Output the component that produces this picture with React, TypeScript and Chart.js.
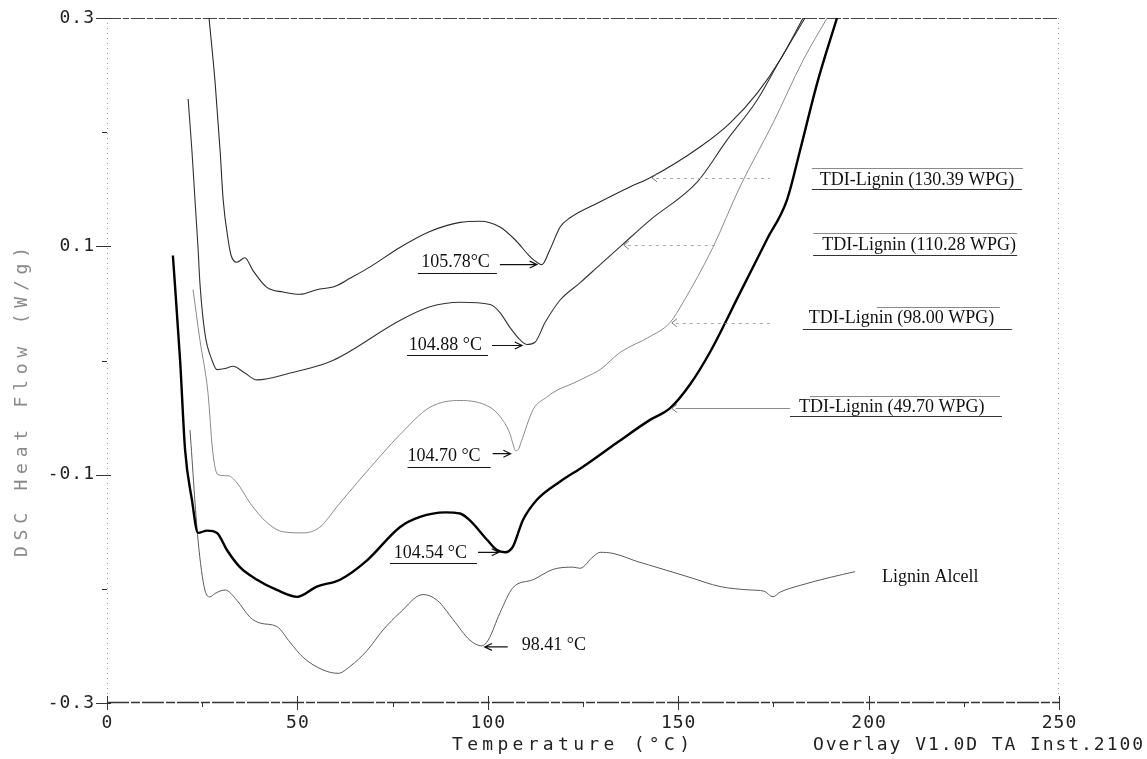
import React, { useEffect, useRef } from "react";
import { Chart, registerables } from "chart.js";

Chart.register(...registerables);

// Axis ticks
const xTicks = [0, 50, 100, 150, 200, 250];
const xMinorTicks = [25, 75, 125, 175, 225];
const yTicks = [0.3, 0.1, -0.1, -0.3];
const yMinorTicks = [0.2, 0.0, -0.2];

// TDI-Lignin (130.39 WPG)
const temp130 = [26.8, 28.4, 29.7, 30.5, 31.8, 32.6, 34.1, 36.2, 38.3, 42.0, 46.2, 50.7, 55.1, 59.9, 63.8, 69.1, 76.9, 84.8, 92.7, 98.0, 103.2, 107.1, 111.1, 112.9, 114.2, 116.3, 119.0, 121.6, 129.5, 137.3, 142.6, 155.7, 163.6, 170.7, 176.7, 182.8];
const flow130 = [0.300, 0.243, 0.184, 0.141, 0.106, 0.092, 0.086, 0.090, 0.079, 0.064, 0.060, 0.058, 0.062, 0.065, 0.072, 0.082, 0.099, 0.113, 0.121, 0.122, 0.117, 0.106, 0.091, 0.086, 0.084, 0.097, 0.117, 0.125, 0.139, 0.152, 0.160, 0.187, 0.208, 0.234, 0.263, 0.300];

// TDI-Lignin (110.28 WPG)
const temp110 = [21.3, 22.3, 23.1, 23.9, 24.4, 25.7, 27.6, 28.9, 31.0, 33.1, 36.2, 39.4, 48.1, 59.3, 76.9, 84.8, 92.7, 100.6, 103.2, 105.8, 108.5, 110.3, 112.4, 115.0, 119.0, 124.2, 129.5, 135.2, 142.6, 154.9, 162.8, 170.7, 176.7, 183.3];
const flow110 = [0.229, 0.184, 0.141, 0.099, 0.068, 0.024, 0.000, -0.008, -0.007, -0.005, -0.011, -0.017, -0.011, 0.000, 0.035, 0.047, 0.051, 0.049, 0.042, 0.029, 0.018, 0.014, 0.016, 0.033, 0.053, 0.068, 0.084, 0.101, 0.123, 0.156, 0.193, 0.228, 0.263, 0.300];

// TDI-Lignin (98.00 WPG)
const temp98 = [22.6, 24.4, 26.5, 27.8, 29.1, 31.8, 34.1, 37.6, 42.0, 46.2, 51.5, 55.9, 60.4, 65.7, 72.5, 76.9, 84.8, 92.7, 100.6, 103.2, 105.8, 106.6, 107.3, 108.0, 108.8, 111.9, 115.5, 118.2, 122.4, 126.1, 129.5, 134.7, 142.6, 147.8, 151.3, 159.1, 166.2, 174.9, 182.8, 189.1];
const flow98 = [0.062, 0.018, -0.028, -0.081, -0.100, -0.101, -0.107, -0.125, -0.142, -0.150, -0.151, -0.146, -0.128, -0.107, -0.081, -0.065, -0.041, -0.035, -0.041, -0.049, -0.064, -0.073, -0.079, -0.078, -0.071, -0.043, -0.032, -0.026, -0.020, -0.014, -0.008, 0.007, 0.021, 0.033, 0.051, 0.099, 0.152, 0.208, 0.263, 0.300];

// TDI-Lignin (49.70 WPG)
const temp49 = [17.3, 19.2, 20.5, 22.3, 23.9, 26.3, 28.9, 31.5, 34.9, 39.4, 44.6, 49.9, 55.1, 61.2, 68.3, 76.9, 82.2, 88.8, 92.7, 95.3, 99.8, 102.4, 104.5, 106.6, 109.2, 112.9, 119.0, 125.0, 133.9, 142.6, 147.8, 153.1, 158.3, 166.2, 173.3, 178.6, 182.0, 186.5, 191.7];
const flow49 = [0.092, 0.000, -0.078, -0.122, -0.151, -0.149, -0.151, -0.166, -0.181, -0.192, -0.201, -0.207, -0.198, -0.192, -0.175, -0.146, -0.137, -0.133, -0.134, -0.140, -0.157, -0.166, -0.168, -0.163, -0.140, -0.122, -0.106, -0.093, -0.072, -0.052, -0.042, -0.021, 0.007, 0.059, 0.106, 0.141, 0.184, 0.243, 0.300];

// Lignin Alcell
const tempAlcell = [21.8, 23.9, 25.7, 27.0, 28.4, 31.0, 34.1, 37.6, 40.2, 44.6, 48.1, 51.5, 56.7, 60.7, 63.8, 68.3, 72.5, 76.9, 83.0, 86.7, 90.9, 95.3, 98.4, 100.1, 103.2, 106.6, 111.9, 117.1, 122.4, 124.2, 127.6, 129.5, 132.9, 139.2, 145.2, 153.1, 161.0, 168.9, 172.5, 174.9, 176.7, 182.0, 189.9, 196.4];
const flowAlcell = [-0.061, -0.157, -0.201, -0.207, -0.204, -0.201, -0.210, -0.225, -0.230, -0.233, -0.247, -0.260, -0.271, -0.274, -0.268, -0.254, -0.236, -0.221, -0.205, -0.210, -0.227, -0.245, -0.250, -0.245, -0.221, -0.199, -0.192, -0.183, -0.181, -0.182, -0.172, -0.168, -0.169, -0.176, -0.182, -0.190, -0.198, -0.201, -0.202, -0.207, -0.203, -0.197, -0.190, -0.185];

type Series = { label: string; temps: number[]; flows: number[]; color: string; width: number };

const SERIES: Series[] = [
  { label: "TDI-Lignin (130.39 WPG)", temps: temp130, flows: flow130, color: "#2b2b2b", width: 1.1 },
  { label: "TDI-Lignin (110.28 WPG)", temps: temp110, flows: flow110, color: "#333333", width: 1.1 },
  { label: "TDI-Lignin (98.00 WPG)", temps: temp98, flows: flow98, color: "#8a8a8a", width: 1 },
  { label: "TDI-Lignin (49.70 WPG)", temps: temp49, flows: flow49, color: "#000000", width: 2.4 },
  { label: "Lignin Alcell", temps: tempAlcell, flows: flowAlcell, color: "#5a5a5a", width: 1 },
];

const MONO = "'DejaVu Sans Mono', 'Liberation Mono', monospace";
const SERIF = "'Liberation Serif', 'Times New Roman', serif";

// Transition call-outs: the arrow points at the dip found inside [lo, hi]
const DIP_NOTES = [
  { series: 0, text: "105.78°C", lo: 105, hi: 120, side: "left", textEdge: -52, textDy: -2, arrowFrom: -42, arrowTo: -5, arrowDy: 0, rule: [-124, -45], ruleDy: 8 },
  { series: 1, text: "104.88 °C", lo: 100, hi: 120, side: "left", textEdge: -45, textDy: 1, arrowFrom: -35, arrowTo: -5, arrowDy: 1, rule: [-120, -39], ruleDy: 10 },
  { series: 2, text: "104.70 °C", lo: 100, hi: 120, side: "left", textEdge: -35, textDy: 6, arrowFrom: -23, arrowTo: -5, arrowDy: 3, rule: [-108, -25], ruleDy: 16 },
  { series: 3, text: "104.54 °C", lo: 95, hi: 115, side: "left", textEdge: -38, textDy: 1, arrowFrom: -27, arrowTo: -6, arrowDy: 0, rule: [-115, -28], ruleDy: 11 },
  { series: 4, text: "98.41 °C", lo: 90, hi: 110, side: "right", textEdge: 40, textDy: -1, arrowFrom: 26, arrowTo: 3, arrowDy: 1, rule: null as number[] | null, ruleDy: 0 },
];

// Sample labels with leader lines back to their curves
const SERIES_NOTES = [
  { series: 0, at: [187.2, 0.158], leader: [142.6, 174.1], over: [-8, 203, -12], under: [-8, 202, 9] },
  { series: 1, at: [187.8, 0.101], leader: [135.2, 159.7], over: [-9, 195, -12], under: [-9, 195, 10] },
  { series: 2, at: [184.3, 0.037], leader: [147.8, 174.6], over: [68, 191, -11], under: [-6, 203, 11] },
  { series: 3, at: [181.7, -0.041], leader: [147.8, 179.4], over: [11, 201, -11], under: [-9, 203, 9] },
  { series: 4, at: [203.5, -0.19], leader: null as number[] | null, over: null as number[] | null, under: null as number[] | null },
];

function flowAt(temps: number[], flows: number[], t: number): number {
  for (let i = 1; i < temps.length; i++) {
    if (t <= temps[i]) {
      const f = (t - temps[i - 1]) / (temps[i] - temps[i - 1]);
      return flows[i - 1] + f * (flows[i] - flows[i - 1]);
    }
  }
  return flows[flows.length - 1];
}

function dipOf(s: Series, lo: number, hi: number) {
  let best = { t: 0, v: Infinity };
  s.temps.forEach((t, i) => {
    if (t >= lo && t <= hi && s.flows[i] < best.v) best = { t, v: s.flows[i] };
  });
  return best;
}

// Draws text glyph by glyph so that it spans the given width
function spacedText(ctx: CanvasRenderingContext2D, text: string, x: number, y: number, width: number) {
  const natural = ctx.measureText(text).width;
  const gap = text.length > 1 ? (width - natural) / (text.length - 1) : 0;
  let cx = x;
  for (const ch of text) {
    ctx.fillText(ch, cx, y);
    cx += ctx.measureText(ch).width + gap;
  }
}

function tickText(ctx: CanvasRenderingContext2D, text: string, x: number, y: number, align: "center" | "right") {
  const gap = 1;
  const w = ctx.measureText(text).width + gap * (text.length - 1);
  const left = align === "center" ? x - w / 2 : x - w;
  spacedText(ctx, text, left, y, w);
}

function arrow(ctx: CanvasRenderingContext2D, x1: number, y1: number, x2: number, y2: number, head = 8) {
  const ang = Math.atan2(y2 - y1, x2 - x1);
  ctx.beginPath();
  ctx.moveTo(x1, y1);
  ctx.lineTo(x2, y2);
  ctx.moveTo(x2 - head * Math.cos(ang - 0.45), y2 - head * Math.sin(ang - 0.45));
  ctx.lineTo(x2, y2);
  ctx.lineTo(x2 - head * Math.cos(ang + 0.45), y2 - head * Math.sin(ang + 0.45));
  ctx.stroke();
}

const dscFrame = {
  id: "dscFrame",
  beforeDatasetsDraw(chart: any) {
    const ctx: CanvasRenderingContext2D = chart.ctx;
    const xs = chart.scales.x;
    const ys = chart.scales.y;
    const { left, right, top, bottom } = chart.chartArea;
    ctx.save();
    ctx.lineCap = "butt";

    // plot frame
    ctx.strokeStyle = "#9a9a9a";
    ctx.lineWidth = 1;
    ctx.setLineDash([1, 4]);
    ctx.beginPath();
    ctx.moveTo(left + 0.5, top);
    ctx.lineTo(left + 0.5, bottom);
    ctx.moveTo(right - 0.5, top);
    ctx.lineTo(right - 0.5, bottom);
    ctx.stroke();
    ctx.setLineDash([14, 2, 6, 2]);
    ctx.strokeStyle = "#444";
    ctx.beginPath();
    ctx.moveTo(left, top + 0.5);
    ctx.lineTo(right, top + 0.5);
    ctx.stroke();
    ctx.setLineDash([22, 2, 9, 2]);
    ctx.strokeStyle = "#333";
    ctx.lineWidth = 1.4;
    ctx.beginPath();
    ctx.moveTo(left, bottom - 0.5);
    ctx.lineTo(right, bottom - 0.5);
    ctx.stroke();
    ctx.setLineDash([]);

    // tick marks
    ctx.strokeStyle = "#333";
    ctx.lineWidth = 1;
    ctx.beginPath();
    xTicks.forEach((t) => {
      const x = Math.round(xs.getPixelForValue(t)) + 0.5;
      ctx.moveTo(x, bottom - 7);
      ctx.lineTo(x, bottom + 7);
    });
    xMinorTicks.forEach((t) => {
      const x = Math.round(xs.getPixelForValue(t)) + 0.5;
      ctx.moveTo(x, bottom);
      ctx.lineTo(x, bottom + 4);
    });
    yTicks.forEach((v) => {
      const y = Math.round(ys.getPixelForValue(v)) + 0.5;
      ctx.moveTo(left - 11, y);
      ctx.lineTo(left + 4, y);
    });
    yMinorTicks.forEach((v) => {
      const y = Math.round(ys.getPixelForValue(v)) + 0.5;
      ctx.moveTo(left - 5, y);
      ctx.lineTo(left, y);
    });
    ctx.stroke();

    // tick labels
    ctx.font = `18px ${MONO}`;
    ctx.fillStyle = "#222";
    ctx.textBaseline = "middle";
    ctx.textAlign = "left";
    xTicks.forEach((t) => tickText(ctx, String(t), xs.getPixelForValue(t), bottom + 20, "center"));
    yTicks.forEach((v) => tickText(ctx, v.toFixed(1), left - 13, ys.getPixelForValue(v), "right"));

    // axis titles and instrument footer
    ctx.fillStyle = "#222";
    spacedText(ctx, "Temperature (°C)", 452, bottom + 42, 238);
    spacedText(ctx, "Overlay V1.0D TA Inst.2100", 813, bottom + 42, 330);

    ctx.save();
    ctx.fillStyle = "#8a8a8a";
    ctx.translate(22, 402);
    ctx.rotate(-Math.PI / 2);
    spacedText(ctx, "DSC Heat Flow (W/g)", -155, 0, 310);
    ctx.restore();

    ctx.restore();
  },
  afterDatasetsDraw(chart: any) {
    const ctx: CanvasRenderingContext2D = chart.ctx;
    const xs = chart.scales.x;
    const ys = chart.scales.y;
    ctx.save();
    ctx.textBaseline = "middle";

    // transition call-outs
    DIP_NOTES.forEach((n) => {
      const s = SERIES[n.series];
      const d = dipOf(s, n.lo, n.hi);
      const tx = xs.getPixelForValue(d.t);
      const ty = ys.getPixelForValue(d.v);
      ctx.font = `18px ${SERIF}`;
      ctx.fillStyle = "#111";
      ctx.textAlign = n.side === "left" ? "right" : "left";
      ctx.fillText(n.text, tx + n.textEdge, ty + n.textDy);
      ctx.strokeStyle = "#111";
      ctx.lineWidth = 1.2;
      arrow(ctx, tx + n.arrowFrom, ty + n.arrowDy, tx + n.arrowTo, ty + n.arrowDy, 8);
      if (n.rule) {
        ctx.lineWidth = 1.1;
        ctx.beginPath();
        ctx.moveTo(tx + n.rule[0], Math.round(ty + n.ruleDy) + 0.5);
        ctx.lineTo(tx + n.rule[1], Math.round(ty + n.ruleDy) + 0.5);
        ctx.stroke();
      }
    });

    // sample labels
    SERIES_NOTES.forEach((n) => {
      const s = SERIES[n.series];
      const lx = xs.getPixelForValue(n.at[0]);
      const ly = ys.getPixelForValue(n.at[1]);
      if (n.leader) {
        const y0 = ys.getPixelForValue(flowAt(s.temps, s.flows, n.leader[0]));
        const x0 = xs.getPixelForValue(n.leader[0]);
        const x1 = xs.getPixelForValue(n.leader[1]);
        ctx.strokeStyle = n.series === 3 ? "#8c8c8c" : "#a8a8a8";
        ctx.lineWidth = 1;
        ctx.setLineDash(n.series === 3 ? [] : [3, 4]);
        ctx.beginPath();
        ctx.moveTo(x0 + 6, Math.round(y0) + 0.5);
        ctx.lineTo(x1, Math.round(y0) + 0.5);
        ctx.stroke();
        ctx.setLineDash([]);
        ctx.strokeStyle = "#777";
        ctx.beginPath();
        ctx.moveTo(x0 + 7, y0 - 4);
        ctx.lineTo(x0 + 2, y0);
        ctx.lineTo(x0 + 7, y0 + 4);
        ctx.stroke();
      }
      ctx.font = `18px ${SERIF}`;
      ctx.fillStyle = "#111";
      ctx.textAlign = "left";
      ctx.fillText(s.label, lx, ly);
      if (n.over) {
        ctx.strokeStyle = "#8a8a8a";
        ctx.lineWidth = 1;
        ctx.beginPath();
        ctx.moveTo(lx + n.over[0], Math.round(ly + n.over[2]) + 0.5);
        ctx.lineTo(lx + n.over[1], Math.round(ly + n.over[2]) + 0.5);
        ctx.stroke();
      }
      if (n.under) {
        ctx.strokeStyle = "#333";
        ctx.lineWidth = 1.1;
        ctx.beginPath();
        ctx.moveTo(lx + n.under[0], Math.round(ly + n.under[2]) + 0.5);
        ctx.lineTo(lx + n.under[1], Math.round(ly + n.under[2]) + 0.5);
        ctx.stroke();
      }
    });
    ctx.restore();
  },
};

export default function App() {
  const ref = useRef<HTMLCanvasElement>(null);

  useEffect(() => {
    const canvas = ref.current;
    if (!canvas) return;
    const chart = new Chart(canvas, {
      type: "scatter",
      data: {
        datasets: SERIES.map((s) => ({
          label: s.label,
          data: s.temps.map((t, i) => ({ x: t, y: s.flows[i] })),
          showLine: true,
          borderColor: s.color,
          backgroundColor: s.color,
          borderWidth: s.width,
          pointRadius: 0,
          pointHoverRadius: 0,
          cubicInterpolationMode: "monotone" as const,
          fill: false,
        })),
      },
      options: {
        animation: false,
        responsive: false,
        maintainAspectRatio: false,
        layout: { padding: { left: 107, right: 88, top: 18, bottom: 56 } },
        plugins: {
          legend: { display: false },
          tooltip: { enabled: false },
        },
        scales: {
          x: { type: "linear", min: 0, max: 250, display: false },
          y: { type: "linear", min: -0.3, max: 0.3, display: false },
        },
      },
      plugins: [dscFrame],
    });
    return () => chart.destroy();
  }, []);

  return (
    <div style={{ position: "absolute", left: 0, top: 0, width: 1147, height: 759, background: "#fff" }}>
      <canvas ref={ref} width={1147} height={759} style={{ display: "block", width: 1147, height: 759 }} />
    </div>
  );
}
